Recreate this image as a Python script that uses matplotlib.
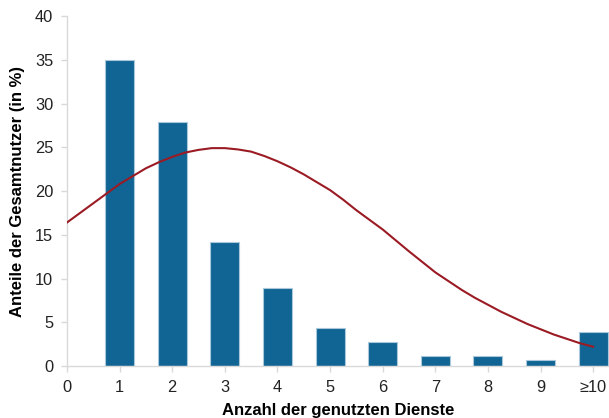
import numpy as np
import matplotlib
matplotlib.use("Agg")
import matplotlib.pyplot as plt

plt.rcParams['font.family'] = ['Liberation Sans', 'DejaVu Sans']

# bar data (share of all users in %)
categories = ["1", "2", "3", "4", "5", "6", "7", "8", "9", "≥10"]
bar_pos = [1, 2, 3, 4, 5, 6, 7, 8, 9, 10]
shares = [35.0, 27.9, 14.2, 8.9, 4.4, 2.7, 1.2, 1.2, 0.7, 3.9]

# fitted curve in quarter steps
curve_x = [0, 0.25, 0.5, 0.75, 1, 1.25, 1.5, 1.75, 2, 2.25, 2.5, 2.75, 3, 3.25, 3.5, 3.75,
           4, 4.25, 4.5, 4.75, 5, 5.25, 5.5, 5.75, 6, 6.25, 6.5, 6.75, 7, 7.25, 7.5, 7.75,
           8, 8.25, 8.5, 8.75, 9, 9.25, 9.5, 9.75, 10]
curve_y = [16.4, 17.5, 18.6, 19.7, 20.8, 21.7, 22.6, 23.3, 23.9, 24.4, 24.7, 24.9, 24.9, 24.75, 24.5, 24.0,
           23.4, 22.7, 21.9, 21.0, 20.1, 19.0, 17.8, 16.7, 15.6, 14.35, 13.1, 11.9, 10.7, 9.7, 8.7, 7.8,
           7.0, 6.2, 5.5, 4.8, 4.2, 3.6, 3.1, 2.6, 2.2]

x_ticks = [0, 1, 2, 3, 4, 5, 6, 7, 8, 9, 10]
x_ticklabels = ["0"] + categories

fig = plt.figure(figsize=(6.09, 4.18), dpi=100)
ax = fig.add_axes([0.110, 0.1244, 0.89, 0.8373])

ax.bar(bar_pos, shares, width=0.55, color="#116594", edgecolor="#a9c8dc", linewidth=0.8, zorder=2)
ax.plot(curve_x, curve_y, color="#9b1b24", linewidth=1.5, zorder=3)

ax.set_xlim(0, 10.3)
ax.set_ylim(0, 40)
ax.set_yticks(range(0, 41, 5))
ax.set_xticks(x_ticks)
ax.set_xticklabels(x_ticklabels)

for s in ["top", "right"]:
    ax.spines[s].set_visible(False)
for s in ["left", "bottom"]:
    ax.spines[s].set_color("#d9d9d9")
    ax.spines[s].set_linewidth(1.0)
ax.tick_params(colors="#d9d9d9", labelcolor="#222222", labelsize=11.8, length=4, width=1.0, pad=6)

ax.set_ylabel("Anteile der Gesamtnutzer (in %)", fontsize=12, fontweight="bold", labelpad=7)
ax.set_xlabel("Anzahl der genutzten Dienste", fontsize=12, fontweight="bold", labelpad=6)

fig.savefig("out.png", dpi=100)
